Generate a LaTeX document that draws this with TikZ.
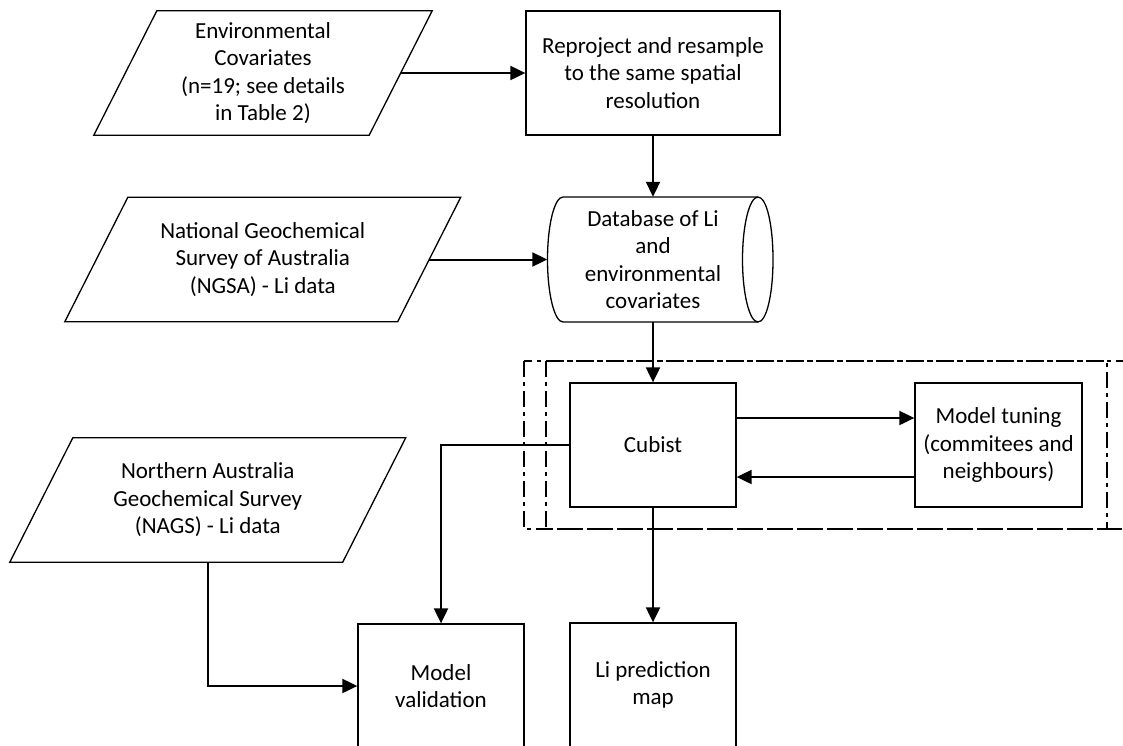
\documentclass[tikz,border=0pt]{standalone}
\usepackage{fontspec}
\setmainfont{Carlito}
\usetikzlibrary{arrows.meta}
\newcommand\paraoutline[1]{%
  \draw[outline] ([xshift=31.5pt]#1.north west) -- ([xshift=31.5pt]#1.north east)
    -- ([xshift=-31.5pt]#1.south east) -- ([xshift=-31.5pt]#1.south west) -- cycle;}
\begin{document}
\begin{tikzpicture}[x=1pt,y=-1pt,
  outline/.style={draw, line width=1.3pt, line join=miter},
  box/.style={draw, line width=1.3pt, minimum width=#1, minimum height=124pt,
    align=center, inner sep=2pt, font=\fontsize{23}{27.5}\selectfont},
  txt/.style={minimum width=#1, minimum height=124pt, align=center, inner sep=2pt,
    font=\fontsize{23}{27.5}\selectfont},
  conn/.style={line width=2pt, -{Triangle[length=15pt,width=14pt]}},
  dashbox/.style={line width=1.5pt, dash pattern=on 16pt off 5pt on 4pt off 5pt}]
\useasboundingbox (0,0) rectangle (1123,745);
\fill[white] (0,0) rectangle (1123,745);
\clip (0,0) rectangle (1123,745);

% group frames
\draw[dashbox] (524,361) rectangle (1140,529);
\draw[dashbox] (546,361) rectangle (1107,529);

% nodes
\node[txt=275pt] (env) at (263,73) {Environmental\\Covariates\\(n=19; see details\\in Table 2)};
\paraoutline{env}
\node[box=254pt] (reproj) at (653,73) {Reproject and resample\\to the same spatial\\resolution};
\node[txt=332.5pt] (ngsa) at (262.75,259.5) {National Geochemical\\Survey of Australia\\(NGSA) - Li data};
\paraoutline{ngsa}
\node[txt=211pt, minimum height=125pt] (db) at (653,259.5) {Database of Li\\and\\environmental\\covariates};
% cylinder outline
\draw[outline] (563,197) -- (758,197)
  .. controls (766.56,197) and (773,224.98) .. (773,259.5)
  .. controls (773,294.02) and (766.56,322) .. (758,322)
  -- (563,322)
  .. controls (554.44,322) and (547.5,294.02) .. (547.5,259.5)
  .. controls (547.5,224.98) and (554.44,197) .. (563,197) -- cycle;
\draw[outline] (758,197)
  .. controls (749.44,197) and (742.5,224.98) .. (742.5,259.5)
  .. controls (742.5,294.02) and (749.44,322) .. (758,322);
\node[box=166pt] (cubist) at (653,445) {Cubist};
\node[box=167pt] (tuning) at (998.5,445) {Model tuning\\(commitees and\\neighbours)};
\node[txt=332.5pt] (nags) at (207.75,500) {Northern Australia\\Geochemical Survey\\(NAGS) - Li data};
\paraoutline{nags}
\node[box=166pt] (valid) at (441,686) {Model\\validation};
\node[box=166pt] (pred) at (653,685) {Li prediction\\map};

% connectors
\draw[conn] (env.east) -- (reproj.west);
\draw[conn] (reproj.south) -- (db.north);
\draw[conn] (ngsa.east) -- (db.west);
\draw[conn] (db.south) -- (cubist.north);
\draw[conn] ([yshift=27pt]cubist.east) -- ([yshift=27pt]tuning.west);
\draw[conn] ([yshift=-32pt]tuning.west) -- ([yshift=-32pt]cubist.east);
\draw[conn] (cubist.west) -| (valid.north);
\draw[conn] (cubist.south) -- (pred.north);
\draw[conn] (nags.south) |- (valid.west);
\end{tikzpicture}
\end{document}
